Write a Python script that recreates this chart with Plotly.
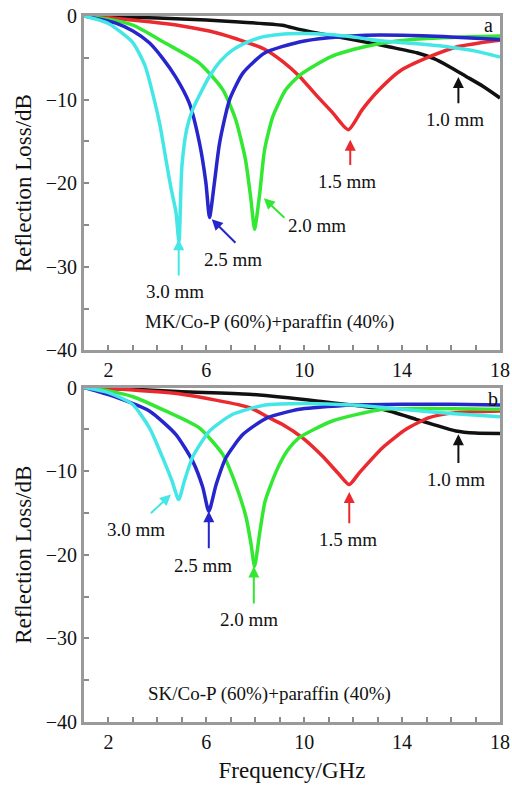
import plotly.graph_objects as go
from plotly.subplots import make_subplots

# ---- Panel a: MK/Co-P (60%) + paraffin (40%) ----
a_f_10 = [1, 3, 5, 7, 9.1, 9.8, 11, 12.5, 13.5, 14.6, 15.3, 15.9, 16.6, 17.3, 18]
a_rl_10 = [0, -0.15, -0.35, -0.65, -1.1, -1.6, -2.3, -3.1, -3.7, -4.4, -5.1, -6.0, -7.2, -8.4, -9.8]

a_f_15 = [1, 2, 3.67, 5, 6.4, 7.5, 8.4, 9.1, 9.8, 10.47, 11.14, 11.8, 12.37, 13.07, 13.9, 15.1, 16.3, 17.2, 18]
a_rl_15 = [0, -0.2, -0.7, -1.2, -2.0, -3.0, -4.0, -5.4, -7.2, -9.4, -11.5, -13.6, -11.2, -8.8, -6.6, -4.9, -3.65, -3.2, -2.9]

a_f_20 = [1, 2, 3, 4.3, 5.7, 6.67, 7.2, 7.6, 7.82, 7.97, 8.17, 8.38, 8.72, 9.25, 9.85, 11.1, 12.5, 13.5, 15, 16.5, 18]
a_rl_20 = [0, -0.4, -1.1, -3.2, -5.6, -8.8, -12.4, -17.2, -21.9, -25.5, -21.5, -16, -12, -8.8, -7.0, -4.85, -3.65, -3.1, -2.7, -2.5, -2.4]

a_f_25 = [1, 2.3, 3, 3.67, 4.2, 4.75, 5.3, 5.72, 5.98, 6.13, 6.33, 6.54, 6.95, 7.5, 8.4, 9.8, 11, 12.5, 14, 16, 18]
a_rl_25 = [0, -0.85, -1.8, -3.2, -5, -7.3, -10.4, -15.2, -19.9, -24.1, -19.9, -15.2, -10, -6.8, -4.4, -3.1, -2.6, -2.3, -2.3, -2.5, -2.8]

a_f_30 = [1, 2, 3, 3.5, 3.8, 4.1, 4.35, 4.55, 4.76, 4.88, 5.0, 5.2, 5.44, 5.8, 6.13, 6.6, 7.08, 7.7, 8.3, 9, 9.8, 11, 12, 13.2, 14.5, 15.9, 17, 18]
a_rl_30 = [0, -0.9, -3.2, -6, -9.2, -13, -17.2, -20.5, -23.5, -27, -18, -13.5, -11.2, -9, -7.2, -5.3, -4.05, -3.1, -2.5, -2.2, -2.1, -2.2, -2.5, -3.0, -3.3, -3.7, -4.2, -4.9]

# ---- Panel b: SK/Co-P (60%) + paraffin (40%) ----
b_f_10 = [1, 3, 5, 7.74, 10.5, 13.2, 14.57, 15.25, 16.2, 17, 18]
b_rl_10 = [0, -0.2, -0.5, -0.8, -1.6, -2.6, -3.8, -4.4, -5.2, -5.45, -5.5]

b_f_15 = [1, 3, 5, 7.77, 8.56, 9.1, 9.92, 10.74, 11.43, 11.84, 12.25, 13.2, 14.16, 15.1, 16.2, 18]
b_rl_15 = [0, -0.3, -0.8, -2.4, -3.6, -4.4, -6.0, -8.2, -10.4, -11.6, -10.2, -7.2, -5.0, -3.6, -3.0, -2.8]

b_f_20 = [1, 2, 3, 4.33, 5.7, 6.67, 7.2, 7.63, 7.83, 7.97, 8.17, 8.4, 8.86, 9.3, 9.8, 11.15, 13.2, 15, 18]
b_rl_20 = [0, -0.4, -1.1, -2.8, -4.8, -8.0, -11.6, -15.6, -18.8, -21.4, -17.6, -13.6, -10.0, -7.6, -6.0, -4.0, -2.6, -2.5, -2.6]

b_f_25 = [1, 2.3, 3.67, 4.75, 5.44, 5.85, 6.1, 6.4, 6.8, 7.5, 8.5, 9.8, 10.5, 12, 14, 16, 18]
b_rl_25 = [0, -1.15, -2.8, -5.6, -8.8, -11.9, -14.8, -11.6, -8.4, -5.6, -3.6, -2.6, -2.4, -2.1, -2.0, -2.0, -2.1]

b_f_30 = [1, 2, 2.98, 3.67, 4.2, 4.6, 4.87, 5.1, 5.44, 6.13, 7.08, 8.4, 10, 12, 14, 16, 18]
b_rl_30 = [0, -0.6, -2.0, -4.8, -8.3, -11.2, -13.4, -11.2, -8.3, -5.2, -3.2, -2.1, -1.9, -2.1, -2.6, -3.1, -3.5]

thickness_labels = ["1.0 mm", "1.5 mm", "2.0 mm", "2.5 mm", "3.0 mm"]
colors = ["#111111", "#ea2a2e", "#33e833", "#2626cc", "#44e6e6"]

panel_a = [(a_f_10, a_rl_10), (a_f_15, a_rl_15), (a_f_20, a_rl_20), (a_f_25, a_rl_25), (a_f_30, a_rl_30)]
panel_b = [(b_f_10, b_rl_10), (b_f_15, b_rl_15), (b_f_20, b_rl_20), (b_f_25, b_rl_25), (b_f_30, b_rl_30)]

# label text position (f, RL) and arrow (head f, head RL, tail f, tail RL) for each thickness
a_label_pos = [(16.18, -12.4), (11.75, -19.8), (10.53, -25.0), (7.08, -29.1), (4.7, -33.0)]
a_arrows = [(16.3, -7.3, 16.3, -10.6), (11.88, -14.8, 11.88, -18.0), (8.35, -21.8, 9.25, -24.3),
            (6.22, -24.3, 7.25, -27.3), (4.87, -26.7, 4.87, -31.2)]
b_label_pos = [(16.2, -11.0), (11.8, -18.2), (7.74, -27.8), (5.85, -21.3), (3.11, -17.0)]
b_arrows = [(16.3, -5.6, 16.3, -9.2), (11.84, -12.5, 11.84, -16.4), (7.94, -21.4, 7.94, -26.0),
            (6.1, -14.8, 6.1, -19.4), (4.55, -12.8, 3.67, -15.2)]

panels = [
    dict(data=panel_a, labels=a_label_pos, arrows=a_arrows, tag="a", tag_pos=(17.55, -1.1),
         note="MK/Co-P (60%)+paraffin (40%)"),
    dict(data=panel_b, labels=b_label_pos, arrows=b_arrows, tag="b", tag_pos=(17.7, -1.4),
         note="SK/Co-P (60%)+paraffin (40%)"),
]

FONT = "Liberation Serif, Times New Roman, serif"

fig = make_subplots(rows=2, cols=1, vertical_spacing=0.0525)

annotations = []
for row, panel in enumerate(panels, start=1):
    xref = "x" if row == 1 else "x2"
    yref = "y" if row == 1 else "y2"
    for (f, rl), name, col in zip(panel["data"], thickness_labels, colors):
        fig.add_trace(go.Scatter(x=f, y=rl, mode="lines", name=name,
                                 line=dict(color=col, width=3.5, shape="spline", smoothing=0.6),
                                 showlegend=False, hoverinfo="skip"),
                      row=row, col=1)
    for (lx, ly), (hx, hy, tx, ty), name, col in zip(panel["labels"], panel["arrows"], thickness_labels, colors):
        annotations.append(dict(x=hx, y=hy, ax=tx, ay=ty, xref=xref, yref=yref,
                                axref=xref, ayref=yref, text="", showarrow=True,
                                arrowhead=2, arrowsize=1.1, arrowwidth=2, arrowcolor=col))
        annotations.append(dict(x=lx, y=ly, xref=xref, yref=yref, text=name, showarrow=False,
                                font=dict(family=FONT, size=19, color="#111")))
    annotations.append(dict(x=panel["tag_pos"][0], y=panel["tag_pos"][1], xref=xref, yref=yref,
                            text=panel["tag"], showarrow=False,
                            font=dict(family=FONT, size=20, color="#111")))
    annotations.append(dict(x=8.56, y=-36.6, xref=xref, yref=yref, text=panel["note"],
                            showarrow=False, font=dict(family=FONT, size=19, color="#111")))

axis_common = dict(showgrid=False, zeroline=False, showline=True, mirror=True, automargin=False,
                   linecolor="#9a9a9a", linewidth=3, ticks="inside", tickcolor="#8a8a8a",
                   ticklen=5, tickwidth=2, tickfont=dict(family=FONT, size=20, color="#111"))

for row in (1, 2):
    fig.update_xaxes(range=[1, 18], tick0=2, dtick=4,
                     minor=dict(dtick=1, tick0=1, ticks="inside", ticklen=5, tickcolor="#8a8a8a", tickwidth=2),
                     **axis_common, row=row, col=1)
    fig.update_yaxes(range=[-40, 0], tick0=0, dtick=10,
                     minor=dict(dtick=5, ticks="inside", ticklen=5, tickcolor="#8a8a8a", tickwidth=2),
                     title=dict(text="Reflection Loss/dB", font=dict(family=FONT, size=23, color="#111"),
                                standoff=8),
                     **axis_common, row=row, col=1)

fig.update_xaxes(title=dict(text="Frequency/GHz", font=dict(family=FONT, size=23, color="#111"),
                            standoff=10), row=2, col=1)

fig.update_layout(width=512, height=787, margin=dict(l=84, r=12, t=16, b=65),
                  plot_bgcolor="white", paper_bgcolor="white", annotations=annotations)

fig.write_html("out.html")
